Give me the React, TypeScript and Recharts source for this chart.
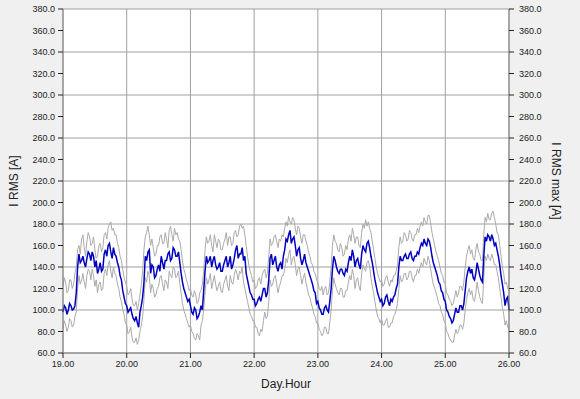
import React from 'react';
import { LineChart, Line, XAxis, YAxis, CartesianGrid, Label } from 'recharts';

// half-hour samples, 19.00 .. 26.00 (one row per day)
const iRms = [
  98, 104, 102, 96, 100, 106, 104, 100, 101, 104, 116, 140, 152, 144, 146, 150, 144, 140, 148, 154, 152, 146, 154, 150,
  140, 146, 134, 138, 144, 136, 138, 152, 156, 150, 160, 162, 154, 148, 158, 152, 150, 144, 140, 132, 128, 118, 112, 106,
  104, 98, 100, 102, 96, 92, 90, 94, 88, 84, 98, 104, 112, 126, 150, 146, 154, 156, 134, 142, 140, 130, 132, 138,
  142, 136, 150, 144, 138, 146, 146, 152, 154, 146, 148, 158, 156, 150, 150, 154, 144, 134, 126, 120, 116, 112, 108, 110,
  104, 98, 96, 102, 100, 92, 94, 98, 104, 100, 118, 136, 150, 144, 146, 150, 140, 146, 150, 142, 138, 140, 144, 136,
  136, 142, 146, 150, 140, 144, 150, 138, 142, 148, 156, 160, 148, 152, 152, 158, 146, 150, 134, 128, 122, 116, 114, 110,
  110, 104, 106, 110, 112, 108, 114, 120, 120, 112, 116, 128, 148, 152, 142, 146, 150, 140, 136, 142, 144, 138, 150, 156,
  166, 164, 170, 174, 162, 166, 168, 160, 150, 156, 158, 148, 142, 146, 152, 144, 140, 136, 132, 128, 124, 118, 116, 106,
  108, 102, 100, 96, 96, 102, 104, 100, 98, 108, 120, 138, 150, 146, 140, 136, 134, 138, 138, 134, 132, 138, 136, 144,
  150, 146, 156, 150, 140, 146, 148, 142, 138, 152, 160, 156, 154, 162, 164, 158, 150, 144, 136, 128, 122, 116, 112, 108,
  110, 104, 106, 112, 114, 108, 104, 110, 108, 112, 114, 120, 124, 140, 150, 146, 146, 150, 152, 148, 148, 152, 154, 148,
  146, 150, 150, 154, 152, 158, 162, 160, 166, 162, 160, 166, 164, 158, 150, 144, 140, 136, 132, 126, 124, 118, 116, 110,
  108, 100, 98, 94, 92, 88, 90, 96, 102, 98, 98, 104, 104, 100, 106, 118, 130, 136, 140, 134, 138, 130, 128, 134,
  144, 138, 132, 128, 126, 150, 168, 164, 170, 168, 164, 170, 166, 160, 162, 156, 150, 142, 132, 124, 116, 104, 110, 112,
  100,
];

const iRmsMaxA = [
  122, 130, 126, 116, 118, 128, 128, 120, 124, 134, 140, 156, 160, 152, 166, 170, 158, 150, 164, 172, 168, 160, 162, 168,
  156, 148, 150, 160, 162, 154, 158, 170, 172, 166, 176, 180, 182, 174, 176, 170, 170, 162, 158, 150, 146, 138, 130, 126,
  122, 114, 116, 120, 110, 104, 104, 108, 100, 106, 114, 124, 136, 156, 168, 172, 178, 170, 160, 166, 158, 150, 152, 160,
  160, 168, 170, 162, 162, 172, 166, 158, 174, 178, 170, 164, 176, 170, 172, 166, 164, 156, 146, 138, 134, 128, 124, 118,
  120, 114, 112, 118, 114, 106, 108, 116, 118, 124, 136, 156, 168, 162, 164, 170, 160, 154, 170, 164, 158, 166, 164, 156,
  156, 162, 166, 172, 160, 168, 168, 160, 162, 172, 174, 168, 170, 178, 180, 176, 178, 170, 160, 150, 142, 136, 132, 126,
  128, 120, 122, 128, 130, 124, 132, 136, 138, 130, 134, 150, 166, 160, 162, 168, 170, 164, 158, 166, 164, 170, 168, 176,
  182, 178, 187, 182, 180, 186, 184, 176, 170, 178, 176, 168, 162, 170, 170, 164, 160, 154, 150, 144, 142, 136, 134, 128,
  126, 120, 118, 122, 114, 120, 122, 114, 116, 126, 140, 160, 170, 164, 162, 156, 154, 162, 158, 150, 152, 160, 156, 166,
  170, 164, 176, 170, 162, 168, 168, 160, 158, 172, 180, 176, 184, 178, 182, 176, 172, 164, 156, 148, 140, 134, 130, 126,
  128, 122, 124, 130, 132, 126, 122, 128, 126, 132, 132, 136, 142, 158, 168, 162, 164, 172, 170, 164, 166, 174, 172, 166,
  164, 170, 170, 176, 172, 178, 182, 178, 186, 182, 180, 188, 188, 180, 172, 166, 160, 154, 150, 146, 140, 134, 132, 126,
  124, 116, 114, 110, 108, 104, 106, 112, 118, 112, 116, 122, 122, 118, 126, 140, 150, 156, 160, 152, 156, 148, 146, 156,
  162, 154, 152, 146, 146, 170, 186, 182, 190, 184, 184, 190, 192, 186, 180, 172, 170, 160, 150, 140, 134, 124, 126, 120,
  118,
];

const iRmsMaxB = [
  82, 90, 86, 80, 84, 92, 90, 84, 86, 94, 98, 120, 132, 124, 128, 134, 126, 120, 132, 138, 136, 128, 138, 132,
  122, 128, 116, 124, 126, 118, 120, 134, 138, 132, 142, 146, 136, 130, 140, 134, 132, 124, 120, 112, 108, 100, 96, 88,
  86, 78, 80, 84, 74, 70, 70, 74, 68, 72, 80, 86, 94, 110, 130, 126, 136, 132, 116, 124, 120, 112, 114, 120,
  122, 130, 132, 124, 118, 128, 126, 120, 136, 132, 130, 140, 138, 130, 132, 136, 124, 116, 106, 100, 96, 92, 88, 84,
  86, 80, 78, 74, 72, 78, 76, 72, 86, 90, 100, 116, 130, 124, 128, 134, 120, 126, 132, 124, 118, 122, 126, 118,
  116, 124, 128, 132, 122, 118, 132, 126, 124, 132, 138, 134, 128, 136, 134, 140, 126, 120, 114, 108, 102, 96, 94, 90,
  90, 84, 84, 78, 76, 82, 80, 90, 98, 92, 94, 108, 128, 122, 124, 130, 132, 124, 116, 122, 126, 132, 132, 138,
  148, 144, 152, 156, 142, 148, 150, 142, 132, 138, 140, 132, 124, 130, 134, 126, 120, 114, 112, 106, 102, 96, 94, 88,
  88, 82, 80, 76, 78, 84, 84, 78, 78, 88, 100, 118, 130, 124, 120, 116, 114, 120, 120, 112, 112, 118, 118, 126,
  132, 128, 138, 132, 120, 128, 130, 122, 118, 134, 142, 138, 136, 144, 146, 140, 130, 122, 116, 108, 100, 94, 92, 88,
  92, 86, 86, 90, 92, 84, 84, 88, 88, 94, 96, 100, 106, 120, 132, 126, 128, 134, 134, 128, 130, 136, 136, 130,
  126, 132, 132, 138, 134, 140, 144, 140, 148, 144, 142, 150, 146, 138, 130, 124, 120, 116, 112, 106, 104, 98, 96, 90,
  88, 80, 78, 74, 72, 70, 70, 76, 82, 78, 80, 86, 86, 82, 88, 100, 110, 116, 120, 114, 118, 110, 108, 116,
  126, 118, 112, 108, 106, 130, 150, 146, 152, 148, 146, 152, 148, 142, 142, 136, 130, 120, 112, 102, 96, 86, 90, 84,
  82,
];

const xTicks = [19, 20, 21, 22, 23, 24, 25, 26];
const yTicks = [60, 80, 100, 120, 140, 160, 180, 200, 220, 240, 260, 280, 300, 320, 340, 360, 380];

const START_DAY = 19;
const SAMPLES_PER_DAY = 48;

const data = iRms.map((v, i) => ({
  t: START_DAY + i / SAMPLES_PER_DAY,
  rms: v,
  maxA: iRmsMaxA[i],
  maxB: iRmsMaxB[i],
}));

const tickStyle = { fontSize: 9, fontFamily: 'Liberation Sans, Arial, sans-serif', fill: '#222' };
const labelStyle = { fontSize: 12, fontFamily: 'Liberation Sans, Arial, sans-serif', fill: '#222' };

const App: React.FC = () => (
  <div style={{ position: 'absolute', left: 0, top: 0, width: 580, height: 399, background: '#f0f0f0' }}>
    <LineChart width={580} height={399} data={data} margin={{ top: 9, right: 8, bottom: 0, left: 8 }}>
      <CartesianGrid stroke="#a0a0a0" fill="#ffffff" yAxisId="left" />
      <XAxis
        dataKey="t"
        type="number"
        domain={[19, 26]}
        ticks={xTicks}
        tickFormatter={(v: number) => v.toFixed(2)}
        height={46}
        tickSize={5}
        tickMargin={3}
        stroke="#808080"
        tick={tickStyle}
        tickLine={{ stroke: '#222' }}
      >
        <Label
          content={() => (
            <text x={286} y={388} textAnchor="middle" style={labelStyle}>
              Day.Hour
            </text>
          )}
        />
      </XAxis>
      <YAxis
        yAxisId="left"
        domain={[60, 380]}
        ticks={yTicks}
        tickFormatter={(v: number) => v.toFixed(1)}
        width={55}
        tickSize={5}
        tickMargin={3}
        stroke="#808080"
        tick={tickStyle}
        tickLine={{ stroke: '#222' }}
        allowDataOverflow
      >
        <Label
          content={() => (
            <text x={18} y={181} textAnchor="middle" transform="rotate(-90, 18, 181)" style={labelStyle}>
              I RMS [A]
            </text>
          )}
        />
      </YAxis>
      <YAxis
        yAxisId="right"
        orientation="right"
        domain={[60, 380]}
        ticks={yTicks}
        tickFormatter={(v: number) => v.toFixed(1)}
        width={63}
        tickSize={5}
        tickMargin={5}
        stroke="#808080"
        tick={tickStyle}
        tickLine={{ stroke: '#222' }}
        allowDataOverflow
      >
        <Label
          content={() => (
            <text x={552} y={181} textAnchor="middle" transform="rotate(90, 552, 181)" style={labelStyle}>
              I RMS max [A]
            </text>
          )}
        />
      </YAxis>
      <Line yAxisId="left" type="linear" dataKey="maxA" stroke="#aaaaaa" strokeWidth={1} dot={false} isAnimationActive={false} />
      <Line yAxisId="left" type="linear" dataKey="maxB" stroke="#aaaaaa" strokeWidth={1} dot={false} isAnimationActive={false} />
      <Line yAxisId="left" type="linear" dataKey="rms" stroke="#0000c0" strokeWidth={1.5} dot={false} isAnimationActive={false} />
    </LineChart>
  </div>
);

export default App;
